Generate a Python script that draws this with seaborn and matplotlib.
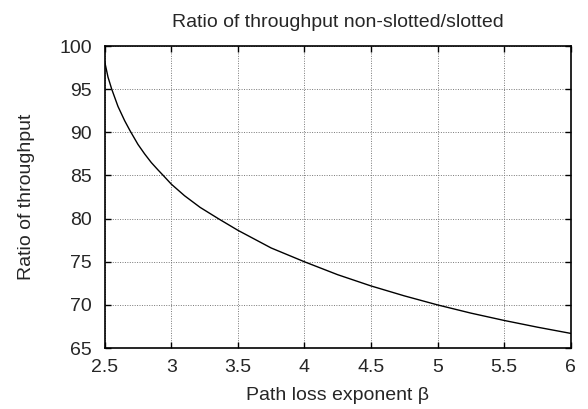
import pandas as pd
import seaborn as sns
import matplotlib
matplotlib.use("Agg")
import matplotlib.pyplot as plt

# values
beta = [2.5, 2.525, 2.553, 2.6, 2.65, 2.69, 2.75, 2.8, 2.85, 2.9, 2.94, 3.0, 3.1, 3.217, 3.353,
        3.5, 3.75, 4.0, 4.25, 4.5, 4.75, 5.0, 5.25, 5.5, 5.75, 6.0]
ratio = [98.2, 96.4, 95.0, 93.0, 91.35, 90.2, 88.6, 87.5, 86.5, 85.65, 85.0, 84.0, 82.65, 81.3, 80.0,
         78.65, 76.6, 75.0, 73.5, 72.2, 71.05, 70.0, 69.05, 68.2, 67.42, 66.7]
xticks = [2.5, 3, 3.5, 4, 4.5, 5, 5.5, 6]
yticks = [65, 70, 75, 80, 85, 90, 95, 100]

df = pd.DataFrame({"beta": beta, "ratio": ratio})

sns.set_style("white")
plt.rcParams['font.family'] = ['Liberation Sans', 'DejaVu Sans']

fig, ax = plt.subplots(figsize=(5.88, 4.09), dpi=100)
fig.subplots_adjust(left=0.178, right=0.9706, top=0.8875, bottom=0.149)

sns.lineplot(data=df, x="beta", y="ratio", color="black", linewidth=1.0, ax=ax)

ax.set_xlim(2.5, 6)
ax.set_ylim(65, 100)
ax.set_xticks(xticks)
ax.set_xticklabels(['2.5', '3', '3.5', '4', '4.5', '5', '5.5', '6'])
ax.set_yticks(yticks)
ax.grid(True, color='#777777', linestyle=(0, (1, 1.5)), linewidth=0.7)
ax.tick_params(axis='both', direction='in', length=4, width=1, labelsize=14,
               top=True, right=True, bottom=True, left=True, color='black')
ax.tick_params(axis='y', pad=9)
ax.tick_params(axis='x', pad=8)
for s in ax.spines.values():
    s.set_color('black')
    s.set_linewidth(1.2)

ax.set_xlabel("Path loss exponent β", fontsize=14, labelpad=8)
ax.set_ylabel("Ratio of throughput", fontsize=14, labelpad=18)
ax.set_title("Ratio of throughput non-slotted/slotted", fontsize=14, pad=14)

plt.savefig("out.png", dpi=100)
